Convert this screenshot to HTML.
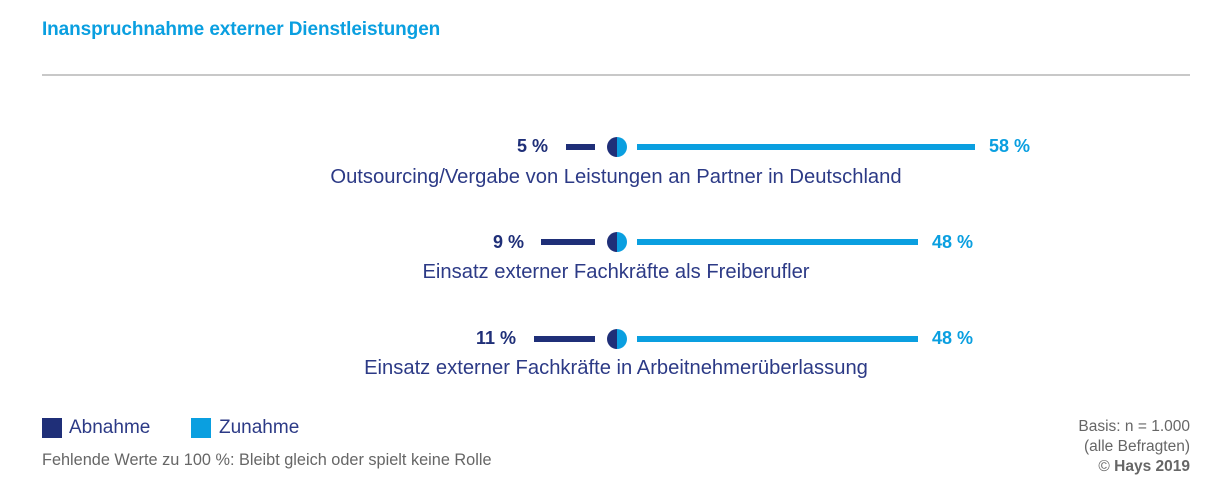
<!DOCTYPE html>
<html><head><meta charset="utf-8"><style>
body{margin:0;width:1232px;height:500px;background:#fff;position:relative;font-family:"Liberation Sans",sans-serif;overflow:hidden}
.a{position:absolute;white-space:nowrap}
.t{left:42px;top:19px;font-size:19px;font-weight:bold;color:#0a9fe0;letter-spacing:-0.1px}
.hr{left:42px;top:74px;width:1148px;height:2px;background:#c8c8c8}
.db{height:6px;background:#1f2f78}
.lb{height:6px;background:#0a9fe0}
.c{width:20px;height:20px;border-radius:50%;background:linear-gradient(90deg,#1f2f78 50%,#0a9fe0 50%)}
.pd{font-size:18px;font-weight:bold;color:#1f2f78;text-align:right;width:80px}
.pl{font-size:18px;font-weight:bold;color:#0a9fe0}
.lab{font-size:20.2px;color:#2c3a86;width:800px;text-align:center;left:216px}
.sq{width:20px;height:20px}
.lg{font-size:19px;color:#2c3a86}
.ft{font-size:16.3px;color:#666}
.r{right:42px;text-align:right;font-size:15.5px;color:#666}
</style></head><body>
<div class="a t">Inanspruchnahme externer Dienstleistungen</div>
<div class="a hr"></div>

<div class="a pd" style="left:468px;top:136px">5 %</div>
<div class="a db" style="left:566px;top:144px;width:29px"></div>
<div class="a c" style="left:607px;top:137px"></div>
<div class="a lb" style="left:637px;top:144px;width:338px"></div>
<div class="a pl" style="left:989px;top:136px">58 %</div>
<div class="a lab" style="top:166px">Outsourcing/Vergabe von Leistungen an Partner in Deutschland</div>

<div class="a pd" style="left:444px;top:232px">9 %</div>
<div class="a db" style="left:541px;top:239px;width:54px"></div>
<div class="a c" style="left:607px;top:232px"></div>
<div class="a lb" style="left:637px;top:239px;width:281px"></div>
<div class="a pl" style="left:932px;top:232px">48 %</div>
<div class="a lab" style="top:261px">Einsatz externer Fachkräfte als Freiberufler</div>

<div class="a pd" style="left:436px;top:328px">11 %</div>
<div class="a db" style="left:534px;top:336px;width:61px"></div>
<div class="a c" style="left:607px;top:329px"></div>
<div class="a lb" style="left:637px;top:336px;width:281px"></div>
<div class="a pl" style="left:932px;top:328px">48 %</div>
<div class="a lab" style="top:357px">Einsatz externer Fachkräfte in Arbeitnehmerüberlassung</div>

<div class="a sq" style="left:42px;top:418px;background:#1f2f78"></div>
<div class="a lg" style="left:69px;top:417px">Abnahme</div>
<div class="a sq" style="left:191px;top:418px;background:#0a9fe0"></div>
<div class="a lg" style="left:219px;top:417px">Zunahme</div>
<div class="a ft" style="left:42px;top:451px">Fehlende Werte zu 100 %: Bleibt gleich oder spielt keine Rolle</div>

<div class="a r" style="top:418px">Basis: n = 1.000</div>
<div class="a r" style="top:438px">(alle Befragten)</div>
<div class="a r" style="top:458px">© <b>Hays 2019</b></div>
</body></html>
